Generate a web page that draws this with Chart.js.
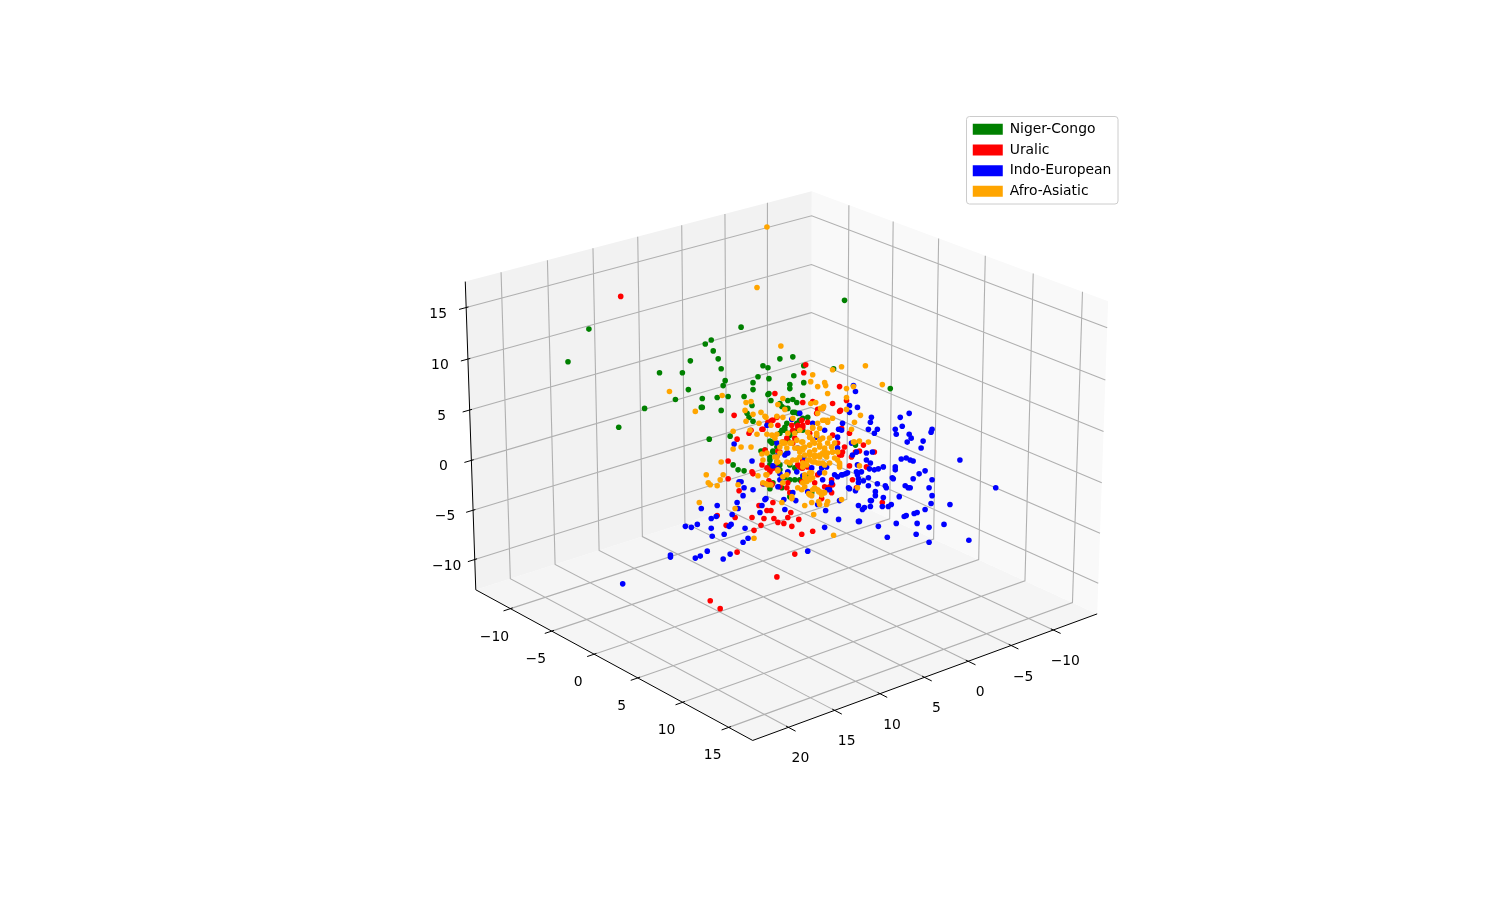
<!DOCTYPE html>
<html>
<head>
<meta charset="utf-8">
<style>
  html, body { margin: 0; padding: 0; background: #fff; }
  canvas { display: block; }
</style>
<script src="https://cdn.jsdelivr.net/npm/chart.js@4/dist/chart.umd.min.js"></script>
</head>
<body>
<canvas id="chart" width="1512" height="909"></canvas>
<script>
// axis values
const xTicks = [-10, -5, 0, 5, 10, 15, 20];
const yTicks = [-10, -5, 0, 5, 10, 15];
const zTicks = [-10, -5, 0, 5, 10, 15];
const xLim = [-15.3, 23.8];
const yLim = [-14.3, 17.55];
const zLim = [-13.1, 17.5];

const categories = ['Niger-Congo', 'Uralic', 'Indo-European', 'Afro-Asiatic'];
const colors = ['green', 'red', 'blue', 'orange'];

// points: [across, down] on the projection plane, depth can't be recovered
const nigerCongo = [[588,328],[567,361],[741,326],[711,339],[705,343],[713,350],[690,360],[718,358],[721,368],[659,372],[682,372],[763,365],[768,367],[780,358],[758,376],[769,378],[725,380],[723,385],[753,382],[753,389],[688,389],[728,396],[717,397],[702,398],[744,396],[675,399],[769,393],[768,394],[771,400],[752,405],[701,407],[644,408],[721,410],[845,299],[793,356],[804,365],[794,375],[804,382],[790,384],[790,388],[803,395],[793,399],[788,400],[797,402],[780,403],[782,406],[788,408],[834,368],[891,388],[618,427],[702,407],[747,413],[749,417],[753,421],[730,436],[709,439],[733,465],[738,470],[761,451],[773,451],[770,441],[772,443],[770,460],[770,465],[770,489],[744,471],[793,412],[803,418],[808,417],[785,430],[782,430],[773,442],[777,447],[773,452],[765,450],[770,457],[777,462],[780,465],[807,477],[802,480],[782,488],[797,423],[790,435],[787,453],[795,468],[773,483],[798,413],[800,420],[856,445],[790,497],[785,408],[795,412],[787,423],[783,430],[780,433],[790,433],[785,427],[798,430],[803,430],[773,442],[788,440],[785,478],[790,480],[790,465],[780,470],[812,493],[795,480],[800,480]];

const uralic = [[620,295],[775,393],[806,364],[804,372],[840,386],[803,402],[833,403],[813,401],[847,400],[818,409],[841,410],[734,415],[762,429],[749,433],[751,430],[737,439],[728,461],[765,450],[762,465],[752,472],[753,474],[770,472],[728,479],[739,491],[763,484],[769,481],[772,484],[772,469],[771,421],[773,420],[778,451],[776,468],[772,420],[768,422],[763,429],[778,425],[798,425],[803,427],[808,422],[787,438],[783,442],[793,443],[780,452],[803,460],[802,468],[767,468],[840,455],[843,452],[853,480],[787,488],[772,485],[825,487],[815,483],[833,435],[838,443],[823,408],[798,465],[788,473],[832,493],[857,488],[850,433],[856,452],[860,451],[875,452],[864,445],[852,457],[867,467],[850,466],[883,503],[717,516],[726,526],[735,518],[752,518],[759,506],[773,503],[767,511],[771,511],[791,513],[788,518],[764,519],[774,519],[778,523],[784,524],[761,526],[754,531],[799,520],[792,527],[802,535],[813,532],[737,553],[795,555],[777,578],[710,602],[720,610],[822,499],[777,417],[792,425],[798,427],[803,425],[793,430],[802,420],[810,433],[817,413],[840,411],[795,438],[842,428],[845,447],[803,462],[808,467],[803,468],[800,467],[832,480],[833,485],[780,487],[842,455],[802,482],[818,475],[790,493],[788,483],[830,487]];

const indoEuropean = [[854,385],[856,391],[850,405],[858,407],[734,444],[752,461],[767,425],[777,443],[773,466],[778,469],[739,482],[741,482],[744,488],[753,490],[743,496],[764,484],[766,499],[778,487],[800,413],[792,419],[843,423],[839,429],[788,453],[798,448],[777,456],[780,474],[797,472],[803,476],[820,473],[835,475],[842,475],[846,474],[853,455],[852,443],[857,452],[858,465],[858,475],[849,488],[832,483],[830,490],[793,493],[780,480],[812,468],[804,457],[823,480],[872,417],[871,422],[901,417],[910,413],[903,426],[896,429],[897,434],[878,429],[875,433],[869,429],[910,434],[912,438],[908,442],[924,441],[922,448],[933,429],[932,432],[867,453],[873,452],[867,460],[871,463],[902,459],[907,458],[911,460],[914,461],[961,460],[997,488],[870,469],[875,470],[879,469],[884,467],[896,467],[896,470],[920,474],[926,471],[857,472],[862,472],[893,478],[894,479],[914,479],[933,480],[859,479],[864,481],[869,478],[859,483],[878,484],[869,486],[886,486],[887,488],[906,486],[909,488],[911,488],[930,488],[850,489],[856,491],[876,492],[876,496],[933,496],[900,497],[884,498],[872,501],[871,501],[932,504],[951,505],[859,506],[865,508],[863,510],[871,507],[883,507],[889,507],[892,505],[926,510],[918,513],[915,514],[907,516],[905,517],[860,522],[879,527],[897,524],[918,524],[945,525],[930,528],[888,538],[917,535],[930,543],[970,541],[717,506],[701,509],[737,503],[738,509],[732,515],[711,519],[716,517],[697,525],[685,527],[691,528],[711,529],[712,537],[724,535],[731,525],[729,527],[745,529],[748,539],[743,543],[707,552],[700,557],[695,559],[670,556],[670,558],[730,555],[723,560],[762,506],[760,513],[765,500],[785,510],[784,500],[796,501],[826,511],[839,520],[825,528],[808,552],[840,501],[859,522],[818,505],[622,585],[813,423],[825,430],[850,412],[817,437],[838,437],[842,430],[838,448],[785,455],[788,472],[827,467],[843,475],[848,473],[838,477],[822,468],[808,492],[828,490]];

const afroAsiatic = [[767,225],[757,286],[669,391],[722,395],[746,402],[751,401],[778,404],[745,410],[695,411],[781,345],[833,369],[842,366],[866,365],[813,374],[811,381],[825,382],[826,385],[818,386],[883,384],[854,386],[847,388],[828,393],[847,397],[783,398],[816,402],[811,403],[785,409],[824,406],[821,408],[847,409],[761,412],[765,416],[753,414],[746,421],[759,423],[733,431],[750,430],[757,434],[767,434],[772,435],[777,434],[733,449],[741,447],[751,447],[762,454],[775,457],[778,462],[721,462],[723,475],[720,480],[706,475],[708,483],[710,485],[717,486],[738,485],[758,476],[766,475],[766,484],[771,485],[778,471],[771,425],[766,417],[777,416],[783,417],[793,418],[818,413],[823,408],[828,422],[825,420],[818,423],[813,427],[808,432],[800,430],[795,433],[788,433],[783,443],[790,443],[797,440],[802,442],[810,437],[817,435],[823,438],[828,443],[832,447],[810,445],[805,447],[815,443],[820,447],[825,450],[810,453],[815,455],[820,457],[827,457],[833,452],[835,458],[808,460],[813,462],[818,463],[823,463],[830,463],[840,463],[803,448],[800,457],[793,460],[790,463],[787,462],[780,453],[767,453],[763,460],[778,470],[767,475],[763,483],[768,485],[783,477],[810,473],[805,475],[810,480],[813,478],[803,483],[798,488],[813,490],[818,490],[823,493],[810,495],[792,497],[825,473],[840,467],[803,463],[855,442],[861,415],[855,422],[852,429],[854,442],[860,441],[869,442],[860,466],[858,488],[699,503],[735,509],[754,539],[782,503],[792,499],[805,506],[812,503],[819,502],[820,505],[828,502],[827,505],[842,500],[814,515],[834,536],[812,496],[809,494],[819,492],[823,493],[822,495],[802,490],[775,438],[782,442],[785,443],[792,443],[798,448],[803,450],[810,445],[813,440],[817,433],[813,428],[820,428],[810,437],[820,445],[825,448],[830,438],[833,418],[828,420],[823,420],[820,440],[835,443],[828,453],[838,452],[800,452],[810,452],[815,450],[823,453],[832,447],[803,442],[795,448],[780,447],[787,448],[805,455],[810,455],[815,457],[820,455],[825,455],[815,462],[820,463],[810,460],[807,465],[812,473],[810,478],[805,478],[807,482],[803,467],[825,465],[838,460],[840,465],[777,462],[787,475],[783,483],[815,488],[820,492],[825,493],[822,495],[805,487],[797,460],[833,452],[777,457]];

// where the corners of the box land on the projection plane
const boxBack = [811.1, 483];    // x low, y low, z low
const boxLeft = [474.3, 591];    // x high, y low, z low
const boxRight = [1099, 615.3];  // x low, y high, z low
const boxTop = [812, 189];       // x low, y low, z high
const boxFront = [752.7, 743];   // x high, y high, z low
const boxTopRight = [1110, 300]; // x low, y high, z high

function det3(a, b, c) {
    return a[0] * (b[1] * c[2] - b[2] * c[1]) - b[0] * (a[1] * c[2] - a[2] * c[1]) + c[0] * (a[1] * b[2] - a[2] * b[1]);
}

// solve u*a + v*b + w*c = d
function solve3(a, b, c, d) {
    const m = det3(a, b, c);
    return [det3(d, b, c) / m, det3(a, d, c) / m, det3(a, b, d) / m];
}

const hom = p => [p[0], p[1], 1];
const neg = p => [-p[0], -p[1], -1];

const s1 = solve3(hom(boxLeft), hom(boxRight), neg(boxFront), hom(boxBack));
const s2 = solve3(hom(boxRight), hom(boxTop), neg(boxTopRight), hom(boxBack));
const weightA = s1[0], weightB = s1[1], weightC = s2[1];

function project(x, y, z) {
    const a = (x - xLim[0]) / (xLim[1] - xLim[0]);
    const b = (y - yLim[0]) / (yLim[1] - yLim[0]);
    const c = (z - zLim[0]) / (zLim[1] - zLim[0]);
    const h = [0, 1, 2].map(i => {
        const o = hom(boxBack)[i], l = hom(boxLeft)[i], r = hom(boxRight)[i], t = hom(boxTop)[i];
        return (1 - a - b - c) * o + a * weightA * l + b * weightB * r + c * weightC * t;
    });
    return { x: h[0] / h[2], y: h[1] / h[2] };
}

const gap = { x: NaN, y: NaN };

// ==================== BOX LINES ====================

const gridLines = [];
xTicks.forEach(t => gridLines.push(project(t, yLim[1], zLim[0]), project(t, yLim[0], zLim[0]), project(t, yLim[0], zLim[1]), gap));
yTicks.forEach(t => gridLines.push(project(xLim[1], t, zLim[0]), project(xLim[0], t, zLim[0]), project(xLim[0], t, zLim[1]), gap));
zTicks.forEach(t => gridLines.push(project(xLim[1], yLim[0], t), project(xLim[0], yLim[0], t), project(xLim[0], yLim[1], t), gap));

const axisLines = [
    project(xLim[1], yLim[0], zLim[1]), project(xLim[1], yLim[0], zLim[0]),
    project(xLim[1], yLim[1], zLim[0]), project(xLim[0], yLim[1], zLim[0]), gap
];
xTicks.forEach(t => axisLines.push(project(t, yLim[1] - 0.25, zLim[0]), project(t, yLim[1] + 0.75, zLim[0]), gap));
yTicks.forEach(t => axisLines.push(project(xLim[1] - 0.25, t, zLim[0]), project(xLim[1] + 0.75, t, zLim[0]), gap));
zTicks.forEach(t => axisLines.push(project(xLim[1] - 0.25, yLim[0], t), project(xLim[1] + 0.75, yLim[0], t), gap));

const paneLeft = [project(xLim[0], yLim[0], zLim[0]), project(xLim[1], yLim[0], zLim[0]), project(xLim[1], yLim[0], zLim[1]), project(xLim[0], yLim[0], zLim[1])];
const paneRight = [project(xLim[0], yLim[0], zLim[0]), project(xLim[0], yLim[1], zLim[0]), project(xLim[0], yLim[1], zLim[1]), project(xLim[0], yLim[0], zLim[1])];
const paneFloor = [project(xLim[0], yLim[0], zLim[0]), project(xLim[1], yLim[0], zLim[0]), project(xLim[1], yLim[1], zLim[0]), project(xLim[0], yLim[1], zLim[0])];

function lineSet(label, data, color, width, order) {
    return { label, data, showLine: true, fill: false, borderColor: color, borderWidth: width, pointRadius: 0, order };
}

function paneSet(label, data, color) {
    return { label, data, showLine: true, fill: 'shape', backgroundColor: color, borderWidth: 0, pointRadius: 0, order: 9 };
}

function pointSet(i, list, order) {
    return {
        label: categories[i],
        data: list.map(p => ({ x: p[0], y: p[1] })),
        backgroundColor: colors[i],
        borderColor: colors[i],
        borderWidth: 0,
        pointRadius: 2.8,
        order
    };
}

// ==================== PLUGINS ====================

const tickText = t => String(t).replace('-', '\u2212');

const axisLabels = {
    id: 'axisLabels',
    afterDatasetsDraw(chart) {
        const { ctx, scales } = chart;
        const put = (t, p, dx, dy) => ctx.fillText(tickText(t), scales.x.getPixelForValue(p.x) + dx, scales.y.getPixelForValue(p.y) + dy);
        ctx.save();
        ctx.font = '13.9px "DejaVu Sans"';
        ctx.fillStyle = '#000';
        ctx.textAlign = 'center';
        ctx.textBaseline = 'middle';
        xTicks.forEach(t => put(t, project(t, yLim[1], zLim[0]), 12, 31.5));
        yTicks.forEach(t => put(t, project(xLim[1], t, zLim[0]), -16, 28.5));
        zTicks.forEach(t => put(t, project(xLim[1], yLim[0], t), -28, 6.5));
        ctx.restore();
    }
};

const legendFrame = {
    id: 'legendFrame',
    afterLayout(chart) {
        const l = chart.legend;
        l.left = 966;
        l.right = 1118;
        l.top = 115.6;
        l.bottom = 300;
    },
    beforeDraw(chart) {
        const { ctx } = chart;
        ctx.save();
        ctx.beginPath();
        ctx.roundRect(966.5, 116.5, 151.5, 87.5, 3);
        ctx.fillStyle = 'rgba(255,255,255,0.8)';
        ctx.fill();
        ctx.strokeStyle = '#ccc';
        ctx.lineWidth = 1;
        ctx.stroke();
        ctx.restore();
    }
};

new Chart(document.getElementById('chart'), {
    type: 'scatter',
    data: {
        datasets: [
            pointSet(0, nigerCongo, 4),
            pointSet(1, uralic, 3),
            pointSet(2, indoEuropean, 2),
            pointSet(3, afroAsiatic, 1),
            lineSet('axes', axisLines, '#000', 1, 5),
            lineSet('grid', gridLines, '#b0b0b0', 1.1, 6),
            paneSet('left wall', paneLeft, '#f2f2f2'),
            paneSet('right wall', paneRight, '#f9f9f9'),
            paneSet('floor', paneFloor, '#f5f5f5')
        ]
    },
    options: {
        responsive: false,
        animation: false,
        layout: { padding: 0 },
        scales: {
            x: { type: 'linear', display: false, min: 0, max: 1512 },
            y: { type: 'linear', display: false, min: 0, max: 909, reverse: true }
        },
        plugins: {
            tooltip: { enabled: false },
            legend: {
                position: 'chartArea',
                align: 'start',
                labels: {
                    boxWidth: 30,
                    boxHeight: 11,
                    padding: 6.77,
                    color: '#000',
                    font: { family: '"DejaVu Sans"', size: 13.9 },
                    filter: item => item.datasetIndex < categories.length,
                    sort: (a, b) => a.datasetIndex - b.datasetIndex
                }
            }
        }
    },
    plugins: [axisLabels, legendFrame]
});
</script>
</body>
</html>
